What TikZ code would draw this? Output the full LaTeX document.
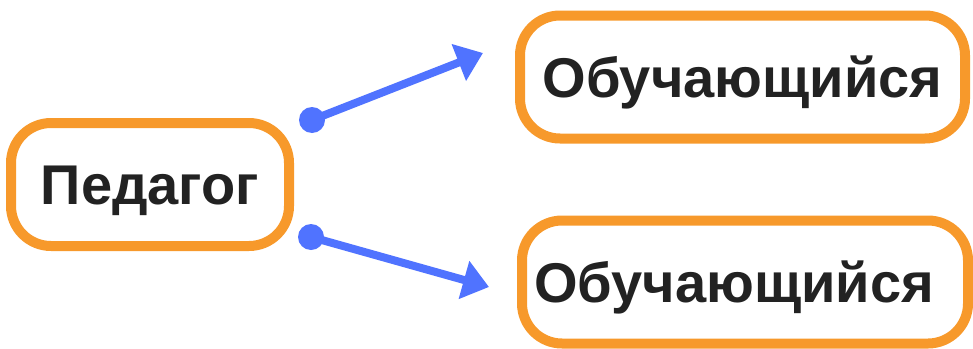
\documentclass[tikz,border=0pt]{standalone}
\usepackage{fontspec}
\setmainfont{Liberation Sans}
\usetikzlibrary{arrows.meta}
\definecolor{boxorange}{HTML}{F7992B}
\definecolor{linkblue}{HTML}{5073FF}
\definecolor{labelgrey}{HTML}{222222}
\tikzstyle{role}=[draw=boxorange, line width=10pt, rounded corners=40pt, minimum height=123pt, inner sep=0pt, text=labelgrey, font=\bfseries\fontsize{56}{60}\selectfont, text height=40pt, text depth=0pt]
\tikzstyle{link}=[linkblue, line width=8pt, -{Triangle[length=26pt,width=38pt]}]

\begin{document}
\begin{tikzpicture}[x=1pt, y=-1pt]
  \useasboundingbox (0,0) rectangle (973,348);
  \node[role, minimum width=278pt] (teacher) at (150,184.5) {Педагог};
  \node[role, minimum width=445pt] (learnerA) at (742.5,77) {Обучающийся};
  \node[role, minimum width=446pt] (learnerB) at (745,282) {\hspace*{-22pt}Обучающийся};
  \coordinate (fromA) at (312,120);
  \coordinate (toA) at (483,53);
  \coordinate (fromB) at (311,237);
  \coordinate (toB) at (489,287);
  \fill[linkblue] (fromA) circle (13pt);
  \fill[linkblue] (fromB) circle (13pt);
  \draw[link] (fromA) -- (toA);
  \draw[link] (fromB) -- (toB);
\end{tikzpicture}
\end{document}
